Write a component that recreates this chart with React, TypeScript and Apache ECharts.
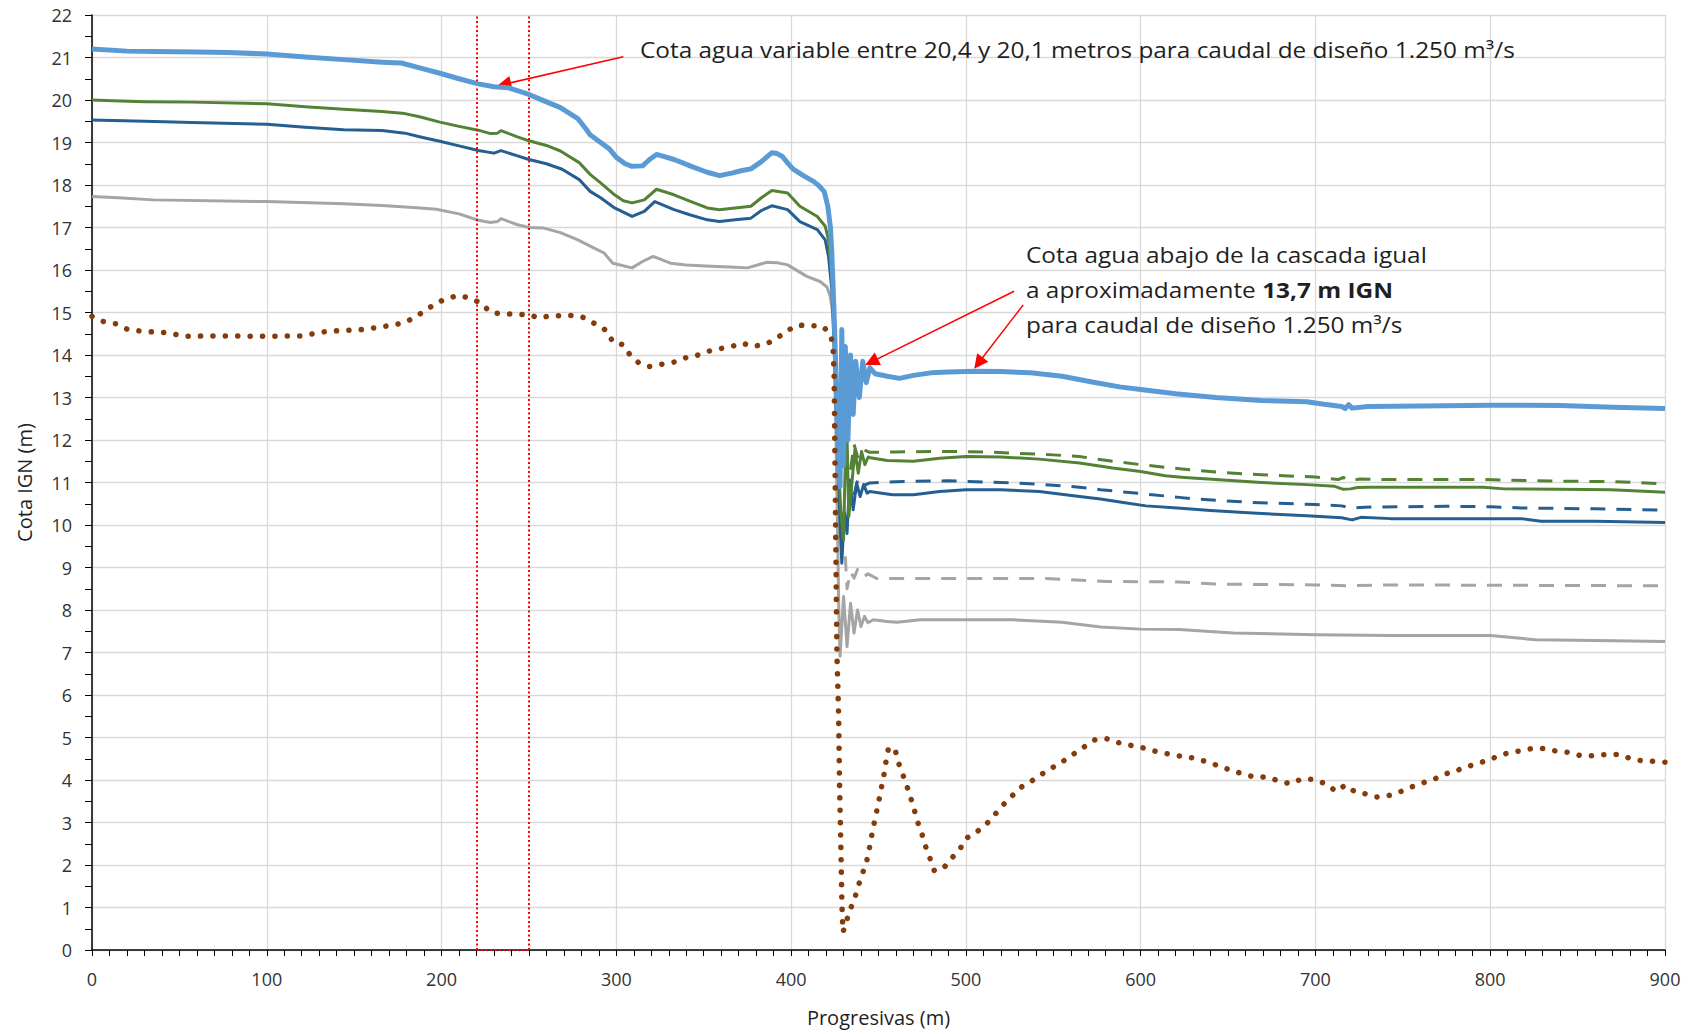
import React, { useEffect, useRef } from "react";
import * as echarts from "echarts";

// ---- axes ----
const X_MIN = 0;
const X_MAX = 900;
const X_STEP = 100;
const Y_MIN = 0;
const Y_MAX = 22;
const Y_STEP = 1;
const X_NAME = "Progresivas (m)";
const Y_NAME = "Cota IGN (m)";

// ---- series (progresiva m, cota m) ----
const designFlow: [number, number][] = [
  [0, 21.2], [20, 21.15], [35, 21.14], [60, 21.13], [78, 21.12], [100, 21.08], [122, 21.01], [144, 20.95],
  [166, 20.89], [177, 20.87], [188, 20.75], [199, 20.63], [210, 20.5], [221, 20.38], [230, 20.31], [238, 20.29],
  [250, 20.13], [258, 19.99], [268, 19.82], [278, 19.56], [283, 19.3], [285, 19.18], [291, 19.0], [296, 18.85],
  [300, 18.65], [305, 18.5], [309, 18.44], [315, 18.45], [319, 18.6], [323, 18.72], [328, 18.66], [333, 18.6],
  [338, 18.52], [344, 18.42], [352, 18.3], [359, 18.22], [366, 18.28], [372, 18.34], [377, 18.38], [383, 18.55],
  [389, 18.76], [392, 18.74], [395, 18.67], [398, 18.52], [401, 18.38], [407, 18.22], [413, 18.08], [416, 17.98],
  [419, 17.84], [421, 17.5], [422.5, 17.0], [423.3, 16.4], [424.3, 15.3], [425, 14.5], [426, 13.0], [427, 11.5],
  [428, 10.9], [429, 14.6], [430, 11.4], [431, 14.2], [432.5, 12.0], [434, 14.0], [435.5, 12.6], [437, 13.85],
  [439, 13.0], [441, 13.85], [443, 13.35], [445, 13.7], [448, 13.56], [455, 13.5], [462, 13.45], [470, 13.52],
  [480, 13.58], [490, 13.6], [505, 13.62], [520, 13.61], [537, 13.58], [555, 13.5], [573, 13.36], [588, 13.25],
  [600, 13.19], [620, 13.09], [643, 13.0], [669, 12.93], [695, 12.9], [705, 12.84], [715, 12.79], [717, 12.74],
  [719, 12.83], [721, 12.75], [730, 12.79], [760, 12.8], [800, 12.82], [840, 12.81], [870, 12.77], [900, 12.74],
];

const greenSolid: [number, number][] = [
  [0, 20.0], [12, 19.98], [30, 19.96], [57, 19.95], [100, 19.91], [122, 19.84], [144, 19.78], [166, 19.73],
  [179, 19.68], [188, 19.6], [199, 19.48], [210, 19.38], [221, 19.29], [228, 19.21], [232, 19.22], [234, 19.28],
  [243, 19.14], [250, 19.04], [260, 18.93], [268, 18.8], [279, 18.52], [285, 18.25], [291, 18.05], [299, 17.77],
  [304, 17.63], [309, 17.58], [316, 17.65], [323, 17.9], [333, 17.77], [342, 17.62], [352, 17.46], [359, 17.42],
  [368, 17.46], [377, 17.5], [383, 17.7], [389, 17.87], [398, 17.81], [405, 17.5], [415, 17.26], [419.5, 17.03],
  [421.4, 16.71], [423.3, 15.85], [424.3, 15.0], [425.5, 13.2], [427, 11.5], [428.5, 10.3], [430, 9.65],
  [431, 11.5], [432, 12.08], [433, 10.2], [434.6, 10.9], [436.5, 11.77], [438.4, 11.22], [440.3, 11.73],
  [442.2, 11.42], [444.1, 11.6], [445.3, 11.58], [455, 11.52], [470, 11.5], [485, 11.57], [500, 11.61],
  [520, 11.6], [542, 11.55], [565, 11.46], [584, 11.34], [600, 11.26], [614, 11.16], [625, 11.12], [643, 11.07],
  [669, 11.0], [695, 10.95], [711, 10.91], [716, 10.84], [720, 10.85], [724, 10.88], [730, 10.89], [760, 10.89],
  [796, 10.89], [808, 10.85], [840, 10.84], [869, 10.83], [885, 10.8], [900, 10.77],
];

const greenDashed: [number, number][] = [
  [434, 11.3], [436, 11.9], [438, 11.6], [440, 11.8], [445, 11.71], [460, 11.72], [489, 11.73], [510, 11.72],
  [527, 11.69], [550, 11.65], [565, 11.61], [584, 11.5], [600, 11.42], [625, 11.31], [645, 11.24], [669, 11.18],
  [700, 11.13], [713, 11.07], [716, 11.12], [720, 11.04], [725, 11.08], [735, 11.07], [796, 11.07], [840, 11.03],
  [870, 11.02], [900, 10.97],
];

const blueSolid: [number, number][] = [
  [0, 19.53], [30, 19.5], [57, 19.47], [100, 19.43], [122, 19.36], [144, 19.3], [166, 19.28], [179, 19.22],
  [188, 19.13], [199, 19.03], [210, 18.92], [221, 18.81], [230, 18.75], [234, 18.81], [243, 18.69], [250, 18.6],
  [260, 18.5], [269, 18.37], [279, 18.12], [285, 17.85], [291, 17.7], [299, 17.46], [309, 17.26], [316, 17.38],
  [322, 17.61], [333, 17.42], [342, 17.3], [352, 17.18], [359, 17.14], [368, 17.18], [377, 17.22], [383, 17.4],
  [389, 17.51], [398, 17.42], [405, 17.14], [415, 16.95], [419.5, 16.71], [421.4, 16.32], [423.3, 15.54],
  [425, 13.8], [426.5, 12.0], [428, 10.0], [429, 9.1], [430.5, 10.3], [432, 9.8], [433.5, 11.06], [435.5, 10.36],
  [437.5, 10.98], [439.5, 10.67], [441.5, 10.95], [443.5, 10.75], [445, 10.79], [458, 10.71], [470, 10.71],
  [485, 10.79], [500, 10.83], [520, 10.83], [542, 10.79], [565, 10.67], [577, 10.61], [590, 10.53], [603, 10.45],
  [621, 10.4], [640, 10.34], [664, 10.28], [695, 10.22], [715, 10.17], [721, 10.12], [726, 10.18], [743, 10.15],
  [780, 10.15], [818, 10.15], [829, 10.09], [860, 10.09], [900, 10.06],
];

const blueDashed: [number, number][] = [
  [436, 10.7], [438, 11.05], [440, 10.9], [445, 10.99], [460, 11.02], [489, 11.04], [527, 10.99], [545, 10.95],
  [565, 10.89], [577, 10.83], [600, 10.74], [622, 10.65], [632, 10.61], [664, 10.53], [700, 10.48], [715, 10.45],
  [720, 10.4], [728, 10.42], [774, 10.44], [800, 10.43], [818, 10.4], [860, 10.38], [900, 10.35],
];

const graySolid: [number, number][] = [
  [0, 17.73], [15, 17.7], [35, 17.65], [100, 17.61], [144, 17.56], [166, 17.52], [188, 17.46], [197, 17.43],
  [210, 17.32], [221, 17.17], [228, 17.12], [232, 17.14], [234, 17.21], [243, 17.07], [250, 17.0], [258, 16.99],
  [268, 16.88], [278, 16.71], [287, 16.52], [293, 16.4], [298, 16.16], [309, 16.05], [315, 16.2], [321, 16.32],
  [331, 16.16], [340, 16.12], [354, 16.09], [365, 16.07], [375, 16.05], [386, 16.18], [392, 16.17], [398, 16.12],
  [409, 15.85], [416.6, 15.73], [420.5, 15.6], [422.4, 15.38], [424.3, 14.83], [425.5, 12.5], [426.5, 10.0],
  [427.3, 8.0], [428, 6.91], [430, 8.32], [432, 7.14], [434, 8.16], [436, 7.46], [438, 8.0], [440, 7.61],
  [442, 7.85], [444, 7.7], [447, 7.77], [455, 7.73], [460.5, 7.71], [474, 7.77], [500, 7.77], [527, 7.77],
  [555, 7.71], [577, 7.6], [600, 7.55], [622, 7.54], [653, 7.46], [700, 7.42], [743, 7.4], [800, 7.4],
  [826, 7.3], [860, 7.28], [900, 7.26],
];

const grayDashed: [number, number][] = [
  [431, 9.26], [432, 8.5], [434, 8.9], [436, 8.75], [438, 8.95], [441, 8.77], [444, 8.85], [449, 8.74],
  [470, 8.74], [546, 8.74], [581, 8.67], [622, 8.66], [643, 8.61], [700, 8.59], [720, 8.57], [740, 8.59],
  [900, 8.57],
];

const riverBed: [number, number][] = [
  [0, 14.91], [6, 14.79], [14, 14.73], [20, 14.61], [28, 14.56], [41, 14.53], [54, 14.44], [70, 14.45],
  [100, 14.44], [120, 14.45], [135, 14.56], [155, 14.6], [170, 14.69], [178, 14.75], [185, 14.89], [190, 15.03],
  [197, 15.22], [203, 15.33], [210, 15.4], [217, 15.33], [223, 15.21], [228, 15.0], [234, 14.97], [242, 14.96],
  [250, 14.95], [256, 14.87], [262, 14.92], [270, 14.93], [277, 14.93], [283, 14.86], [289, 14.7], [295, 14.56],
  [298, 14.3], [304, 14.24], [308, 13.99], [313, 13.81], [319, 13.73], [327, 13.79], [334, 13.84], [340, 13.94],
  [346, 13.99], [352, 14.08], [358, 14.14], [365, 14.19], [372, 14.28], [378, 14.2], [386, 14.26], [392, 14.4],
  [398, 14.58], [404, 14.7], [412, 14.69], [418.5, 14.67], [422.8, 14.45], [424, 14.16], [424.6, 13.58],
  [426.2, 6.99], [427.2, 5.5], [427.7, 3.93], [428.5, 2.36], [429.1, 1.03], [429.7, 0.42], [431.9, 0.71],
  [434.2, 0.99], [436.7, 1.26], [438.8, 1.55], [441.1, 1.83], [443.4, 2.12], [444.9, 2.42], [446.2, 2.71],
  [447.6, 3.0], [449.1, 3.29], [450.6, 3.59], [452, 3.89], [453.3, 4.16], [454.4, 4.46], [455.8, 4.77],
  [459.6, 4.7], [461.5, 4.4], [464, 4.12], [466.3, 3.85], [468.6, 3.56], [470.6, 3.28], [472.6, 2.99],
  [475, 2.71], [477.1, 2.42], [479.6, 2.14], [481.9, 1.87], [486.9, 1.91], [491.4, 2.14], [496.4, 2.36],
  [499.8, 2.62], [505.9, 2.77], [511.5, 2.95], [516.4, 3.18], [521, 3.4], [526, 3.61], [531.5, 3.83],
  [537.8, 3.98], [543.5, 4.14], [549.8, 4.3], [555.9, 4.45], [561.6, 4.61], [567.7, 4.78], [574, 4.95],
  [580.7, 4.97], [588, 4.87], [595, 4.81], [602, 4.75], [609, 4.67], [616, 4.61], [623, 4.56], [630, 4.52],
  [637, 4.44], [644, 4.34], [651, 4.24], [658, 4.15], [665, 4.07], [672, 4.07], [679, 3.98], [685.5, 3.91],
  [692.5, 4.03], [699.4, 4.01], [706.5, 3.9], [711.8, 3.73], [717.1, 3.88], [722.7, 3.72], [728, 3.68],
  [735, 3.6], [741.7, 3.63], [748.4, 3.72], [755.3, 3.84], [762, 3.94], [768.4, 4.03], [775, 4.15], [782, 4.24],
  [789, 4.34], [796, 4.43], [802, 4.52], [809, 4.62], [816.5, 4.68], [823.7, 4.74], [830.8, 4.74], [837.7, 4.68],
  [844.7, 4.65], [852, 4.57], [859, 4.57], [866, 4.6], [873, 4.6], [880, 4.51], [887, 4.45], [894, 4.44],
  [900, 4.42],
];

// ---- annotations ----
const SECTION_X: [number, number] = [220, 250];
const NOTE_1 = "Cota agua variable entre 20,4 y 20,1 metros para caudal de diseño 1.250 m³/s";
const NOTE_2_LINES = ["Cota agua abajo de la cascada igual", "a aproximadamente ", "13,7 m IGN", "para caudal de diseño 1.250 m³/s"];
const ARROWS: [[number, number], [number, number]][] = [
  [[304, 21.02], [235.8, 20.37]],
  [[527.6, 15.5], [446, 13.84]],
  [[532.8, 15.18], [507.2, 13.81]],
];

const FONT = "'Open Sans', 'Noto Sans', sans-serif";
const TXT = "#1f1f1f";
const RED = "#FF0000";
const NOTE_SCALE_X = 1.16;

function lineSeries(name: string, data: [number, number][], color: string, width: number, type: any, z: number, cap = "butt") {
  return {
    name,
    type: "line",
    data,
    symbol: "none",
    showSymbol: false,
    silent: true,
    z,
    lineStyle: { color, width, type, cap, join: "round" },
  };
}

export default function App() {
  const ref = useRef<HTMLDivElement>(null);
  useEffect(() => {
    document.body.style.margin = "0";
    const chart = echarts.init(ref.current!, null, { renderer: "svg" });
    const option: any = {
      animation: false,
      backgroundColor: "#ffffff",
      grid: { left: 92, right: 36, top: 15, bottom: 84, containLabel: false },
      xAxis: {
        type: "value",
        min: X_MIN,
        max: X_MAX,
        interval: X_STEP,
        name: X_NAME,
        nameLocation: "middle",
        nameGap: 57,
        nameTextStyle: { fontFamily: FONT, fontSize: 20, color: TXT },
        axisLine: { show: true, onZero: false, lineStyle: { color: "#000", width: 1.5 } },
        axisTick: { show: true, length: 6, lineStyle: { color: "#000", width: 1 } },
        minorTick: { show: true, splitNumber: 10, length: 6, lineStyle: { color: "#000", width: 1 } },
        axisLabel: { fontFamily: FONT, fontSize: 18, color: "#333", margin: 20 },
        splitLine: { show: true, lineStyle: { color: "#d9d9d9", width: 1.3 } },
      },
      yAxis: {
        type: "value",
        min: Y_MIN,
        max: Y_MAX,
        interval: Y_STEP,
        name: Y_NAME,
        nameLocation: "middle",
        nameGap: 58,
        nameTextStyle: { fontFamily: FONT, fontSize: 20, color: TXT },
        axisLine: { show: true, lineStyle: { color: "#000", width: 1.5 } },
        axisTick: { show: true, length: 7, lineStyle: { color: "#000", width: 1 } },
        minorTick: { show: true, splitNumber: 2, length: 7, lineStyle: { color: "#000", width: 1 } },
        axisLabel: { fontFamily: FONT, fontSize: 18, color: "#333", margin: 20 },
        splitLine: { show: true, lineStyle: { color: "#d9d9d9", width: 1.3 } },
      },
      series: [
        lineSeries("Gris", graySolid, "#A5A5A5", 3, "solid", 2),
        lineSeries("Gris aguas abajo", grayDashed, "#A5A5A5", 3, [15, 11], 2),
        lineSeries("Azul oscuro", blueSolid, "#255E91", 3, "solid", 3),
        lineSeries("Azul oscuro aguas abajo", blueDashed, "#255E91", 3, [15, 11], 3),
        lineSeries("Verde", greenSolid, "#548235", 3, "solid", 4),
        lineSeries("Verde aguas abajo", greenDashed, "#548235", 3, [15, 11], 4),
        {
          ...lineSeries("Caudal de diseño", designFlow, "#5B9BD5", 5, "solid", 5),
          markLine: {
            silent: true,
            symbol: ["none", "triangle"],
            symbolSize: 14,
            label: { show: false },
            lineStyle: { color: RED, width: 1.5, type: "solid" },
            itemStyle: { color: RED },
            data: ARROWS.map(([a, b]) => [{ coord: a }, { coord: b }]),
          },
        },
        {
          ...lineSeries("Fondo", riverBed, "#843C0C", 5.5, [0.1, 12.3], 6, "round"),
          markLine: {
            silent: true,
            symbol: ["none", "none"],
            label: { show: false },
            lineStyle: { color: RED, width: 2, type: [2, 2.5] },
            data: [
              { xAxis: SECTION_X[0] },
              { xAxis: SECTION_X[1] },
              [{ coord: [SECTION_X[0], Y_MIN] }, { coord: [SECTION_X[1], Y_MIN] }],
            ],
          },
        },
      ],
      graphic: [
        {
          type: "text",
          x: 640,
          y: 50,
          scaleX: NOTE_SCALE_X,
          z: 100,
          style: { text: NOTE_1, fontFamily: FONT, fontSize: 21, fill: TXT, verticalAlign: "middle" },
        },
        {
          type: "text",
          x: 1026,
          y: 238,
          scaleX: NOTE_SCALE_X,
          z: 100,
          style: {
            text:
              "{n|" + NOTE_2_LINES[0] + "}\n{n|" + NOTE_2_LINES[1] + "}{b|" + NOTE_2_LINES[2] + "}\n{n|" + NOTE_2_LINES[3] + "}",
            fontFamily: FONT,
            fontSize: 21,
            fill: TXT,
            rich: {
              n: { fontFamily: FONT, fontSize: 21, color: TXT, lineHeight: 35 },
              b: { fontFamily: FONT, fontSize: 21, color: TXT, fontWeight: "bold", lineHeight: 35 },
            },
          },
        },
      ],
    };
    chart.setOption(option);
    return () => chart.dispose();
  }, []);
  return <div ref={ref} style={{ width: 1701, height: 1034 }} />;
}
